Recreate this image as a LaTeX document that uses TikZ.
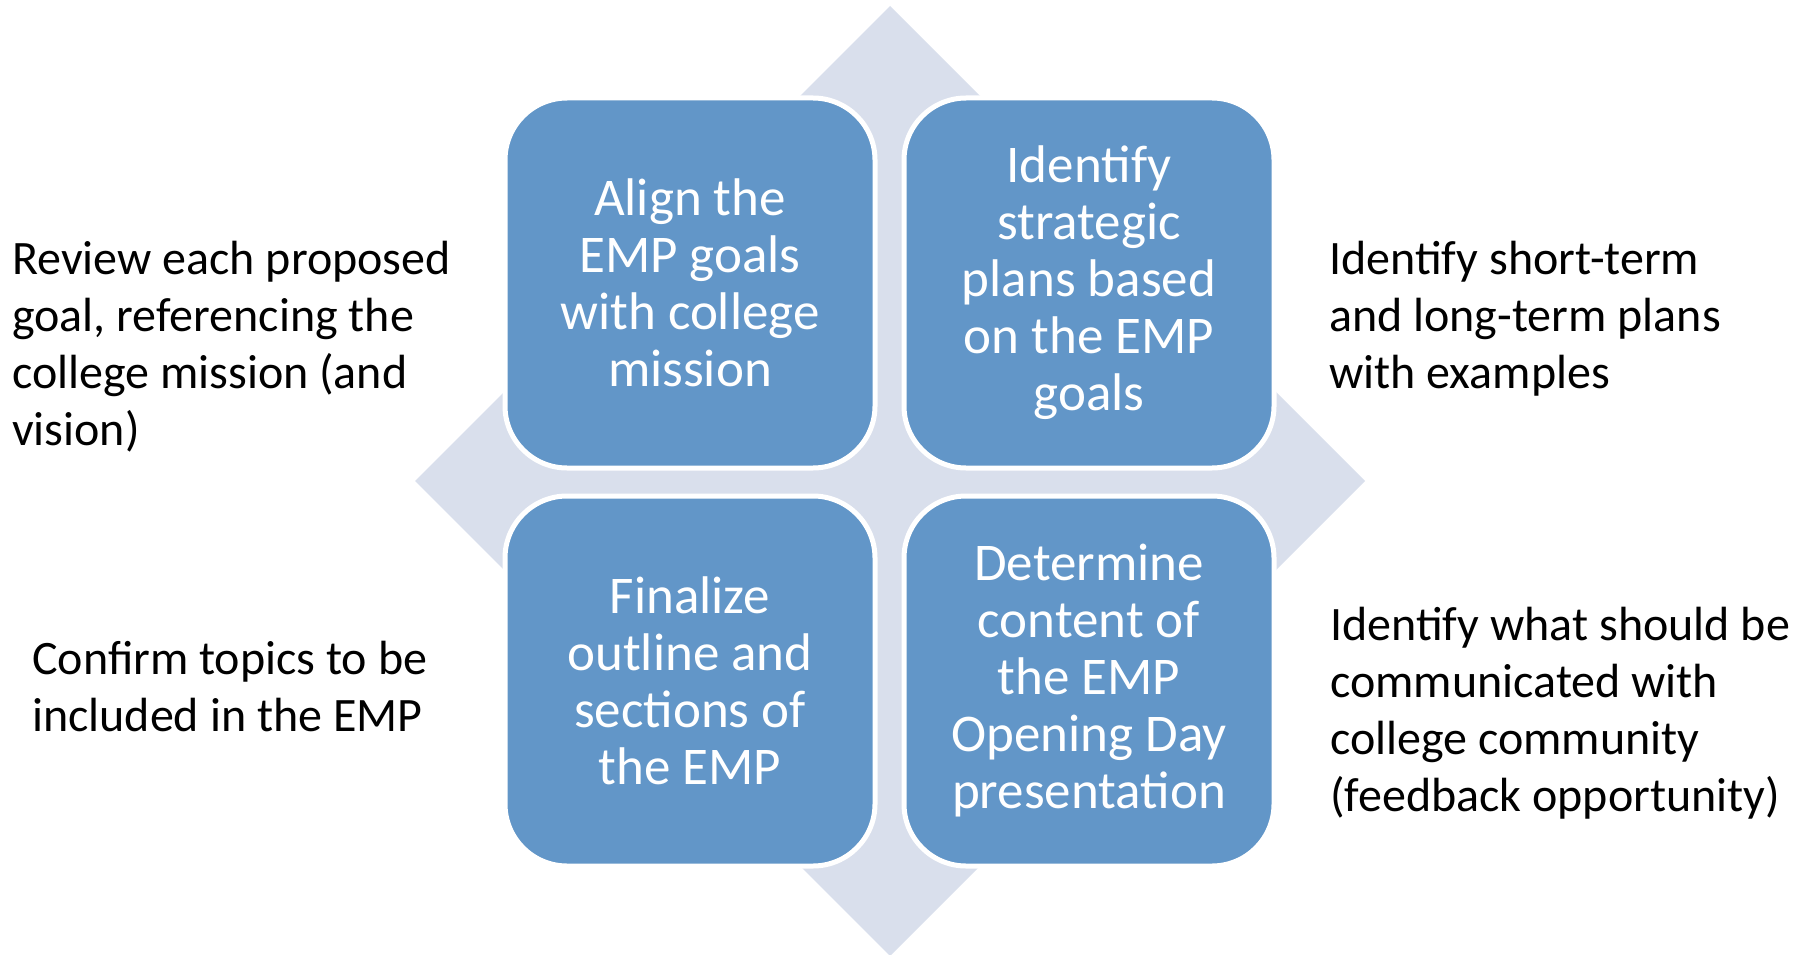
\documentclass[tikz,border=0pt]{standalone}
\usepackage{fontspec}
\setmainfont{Carlito}
\definecolor{boxblue}{RGB}{98,150,200}
\definecolor{diamondc}{RGB}{217,223,236}
\begin{document}
\begin{tikzpicture}[x=1pt,y=-1pt,
  stepbox/.style={draw=white,line width=5pt,fill=boxblue,rounded corners=62pt,
    minimum width=370pt,minimum height=370pt,inner sep=0pt,text=white,align=center,
    font=\fontsize{53}{57}\selectfont},
  sidetext/.style={anchor=base west,inner sep=0pt,align=left,text=black,
    font=\fontsize{48}{57}\selectfont}]
\useasboundingbox (0,0) rectangle (1806,955);
\fill[diamondc] (890,6) -- (1365,481) -- (890,956) -- (415,481) -- cycle;
\node[stepbox] (tl) at (690,283) {Align the\\EMP goals\\with college\\mission};
\node[stepbox] (tr) at (1089,283) {Identify\\strategic\\plans based\\on the EMP\\goals};
\node[stepbox] (bl) at (690,681) {Finalize\\outline and\\sections of\\the EMP};
\node[stepbox] (br) at (1089,681) {Determine\\content of\\the EMP\\Opening Day\\presentation};
\node[sidetext] (lt) at (12,445) {Review each proposed\\goal, referencing the\\college mission (and\\vision)};
\node[sidetext] (rt) at (1329,388) {Identify short-term\\and long-term plans\\with examples};
\node[sidetext] (lb) at (32,731) {Confirm topics to be\\included in the EMP};
\node[sidetext] (rb) at (1330,811) {Identify what should be\\communicated with\\college community\\(feedback opportunity)};
\end{tikzpicture}
\end{document}
